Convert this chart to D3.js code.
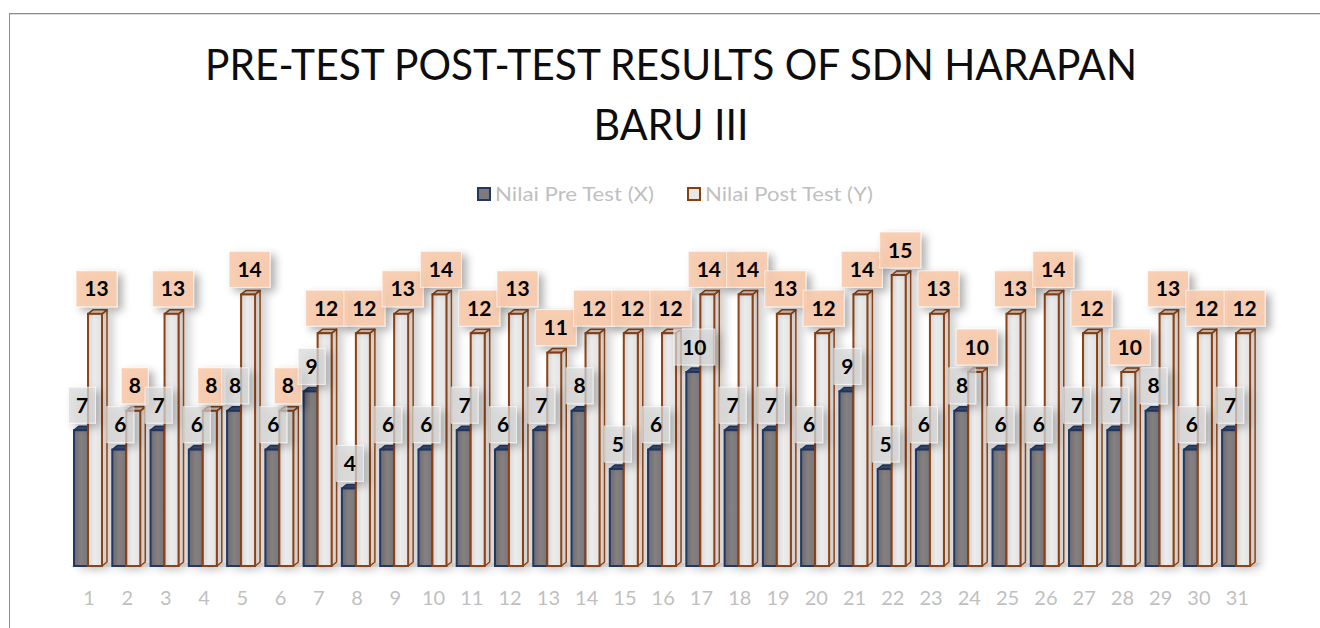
<!DOCTYPE html>
<html>
<head>
<meta charset="utf-8">
<script src="https://cdn.jsdelivr.net/npm/d3@7"></script>
<style>
  html, body { margin: 0; padding: 0; background: #fff; }
  svg { display: block; font-family: Lato, "Open Sans", sans-serif; }
</style>
</head>
<body>
<div id="chart"></div>
<script>
// Data
const categories = d3.range(1, 32).map(String);
const preTest  = [7, 6, 7, 6, 8, 6, 9, 4, 6, 6, 7, 6, 7, 8, 5, 6, 10, 7, 7, 6, 9, 5, 6, 8, 6, 6, 7, 7, 8, 6, 7];
const postTest = [13, 8, 13, 8, 14, 8, 12, 12, 13, 14, 12, 13, 11, 12, 12, 12, 14, 14, 13, 12, 14, 15, 13, 10, 13, 14, 12, 10, 13, 12, 12];
const seriesNames = ["Nilai Pre Test (X)", "Nilai Post Test (Y)"];
const titleLines = ["PRE-TEST POST-TEST RESULTS OF SDN HARAPAN", "BARU III"];

const width = 1320;
const height = 628;

const svg = d3.select("#chart")
    .append("svg")
    .attr("width", width)
    .attr("height", height);

const defs = svg.append("defs");

// shadows
const shadow = defs.append("filter").attr("id", "shadow")
    .attr("x", "-50%").attr("y", "-50%").attr("width", "200%").attr("height", "200%");
shadow.append("feGaussianBlur").attr("in", "SourceAlpha").attr("stdDeviation", 4);
shadow.append("feOffset").attr("dx", 5).attr("dy", 4).attr("result", "b");
shadow.append("feComponentTransfer").append("feFuncA").attr("type", "linear").attr("slope", 0.35);
const sm = shadow.append("feMerge");
sm.append("feMergeNode");
sm.append("feMergeNode").attr("in", "SourceGraphic");

const barShadow = defs.append("filter").attr("id", "barShadow")
    .attr("x", "-100%").attr("y", "-20%").attr("width", "300%").attr("height", "140%");
barShadow.append("feGaussianBlur").attr("in", "SourceAlpha").attr("stdDeviation", 4);
barShadow.append("feOffset").attr("dx", 6).attr("dy", 3);
barShadow.append("feComponentTransfer").append("feFuncA").attr("type", "linear").attr("slope", 0.18);
const bm = barShadow.append("feMerge");
bm.append("feMergeNode");
bm.append("feMergeNode").attr("in", "SourceGraphic");

// gradients
function grad(id, stops) {
  const g = defs.append("linearGradient").attr("id", id)
      .attr("x1", 0).attr("x2", 1).attr("y1", 0).attr("y2", 0);
  stops.forEach(s => g.append("stop").attr("offset", s[0]).attr("stop-color", s[1]));
}
grad("preFront", [[0, "#6e6a6c"], [0.5, "#858183"], [1, "#7a7678"]]);
grad("postFront", [[0, "#d6d6d6"], [0.45, "#ececec"], [1, "#e2e2e2"]]);

// chart frame
svg.append("line").attr("x1", 9).attr("x2", width).attr("y1", 13.5).attr("y2", 13.5)
    .attr("stroke", "#8c8c8c").attr("stroke-width", 1);
svg.append("line").attr("x1", 9).attr("x2", width).attr("y1", 14.5).attr("y2", 14.5)
    .attr("stroke", "#dcdcdc").attr("stroke-width", 1);
svg.append("line").attr("x1", 9.5).attr("x2", 9.5).attr("y1", 13).attr("y2", height)
    .attr("stroke", "#8c8c8c").attr("stroke-width", 1);

// title
svg.selectAll(".title")
    .data(titleLines)
    .join("text")
    .attr("class", "title")
    .attr("x", 671)
    .attr("y", (d, i) => 80 + i * 60)
    .attr("text-anchor", "middle")
    .attr("font-size", 42)
    .attr("fill", "#0d0d0d")
    .attr("textLength", (d, i) => i === 0 ? 932 : 155)
    .attr("lengthAdjust", "spacingAndGlyphs")
    .text(d => d);

// legend
const legend = svg.append("g").attr("font-size", 19).attr("fill", "#bfbfbf");
const legendItems = [
  { name: seriesNames[0], x: 477, fill: "#7f7b7d", stroke: "#1f3864", len: 159 },
  { name: seriesNames[1], x: 687, fill: "#e8e8e8", stroke: "#8b3e10", len: 168 }
];
legendItems.forEach(it => {
  legend.append("rect").attr("x", it.x + 1).attr("y", 188).attr("width", 12).attr("height", 12)
      .attr("fill", it.fill).attr("stroke", it.stroke).attr("stroke-width", 2);
  legend.append("text").attr("x", it.x + 18).attr("y", 201).attr("textLength", it.len)
      .attr("lengthAdjust", "spacingAndGlyphs").text(it.name);
});

// scales
const x = d3.scaleBand()
    .domain(categories)
    .range([70, 70 + 31 * 38.27])
    .padding(0);

const inner = d3.scaleBand()
    .domain(["pre", "post"])
    .range([4, 32]);

const y = d3.scaleLinear()
    .domain([0, 16])
    .range([566, 255.6]);

// floor
svg.append("path")
    .attr("d", `M${x.range()[0]},${y(0) + 1}L${x.range()[1]},${y(0) + 1}L${x.range()[1] + 5},${y(0) - 3}L${x.range()[0] + 5},${y(0) - 3}Z`)
    .attr("fill", "#ececec");

// axis
const xAxis = d3.axisBottom(x).tickSize(0).tickPadding(0);
const axisG = svg.append("g")
    .attr("transform", `translate(0,${y(0) + 39})`)
    .call(xAxis);
axisG.select(".domain").remove();
axisG.selectAll("text")
    .attr("font-size", 20)
    .attr("font-family", "Lato, \"Open Sans\", sans-serif")
    .attr("fill", "#bfbfbf")
    .attr("dy", 0);

// bars
const dx = 5, dy = -4;
const bw = inner.bandwidth();

const rows = categories.map((c, i) => ({ cat: c, pre: preTest[i], post: postTest[i] }));

const styles = {
  pre:  { front: "url(#preFront)", side: "#5a5658", top: "#3e4e72", stroke: "#203864" },
  post: { front: "url(#postFront)", side: "#d2d2d2", top: "#e0d0c4", stroke: "#8f4212" }
};

function drawBar(g, key, value) {
  const st = styles[key];
  const x0 = inner(key);
  const x1 = x0 + bw;
  const yt = y(value), yb = y(0);
  const bar = g.append("g").attr("filter", "url(#barShadow)");
  // side face
  bar.append("path")
      .attr("d", `M${x1},${yt}L${x1 + dx},${yt + dy}L${x1 + dx},${yb + dy}L${x1},${yb}Z`)
      .attr("fill", st.side).attr("stroke", st.stroke).attr("stroke-width", 1.5).attr("stroke-linejoin", "round");
  // top face
  bar.append("path")
      .attr("d", `M${x0},${yt}L${x0 + dx},${yt + dy}L${x1 + dx},${yt + dy}L${x1},${yt}Z`)
      .attr("fill", st.top).attr("stroke", st.stroke).attr("stroke-width", 1.5).attr("stroke-linejoin", "round");
  // front face
  bar.append("rect")
      .attr("x", x0).attr("y", yt).attr("width", bw).attr("height", yb - yt)
      .attr("fill", st.front).attr("stroke", st.stroke).attr("stroke-width", 2);
}

const groups = svg.append("g").selectAll("g")
    .data(rows)
    .join("g")
    .attr("transform", d => `translate(${x(d.cat)},0)`);

groups.each(function(d) {
  const g = d3.select(this);
  drawBar(g, "pre", d.pre);
  drawBar(g, "post", d.post);
});

// data labels
const labels = svg.append("g");
rows.forEach(d => {
  [["pre", d.pre, 12, "#d9d9d9", 0.7], ["post", d.post, 26.5, "#f8cbad", 0.9]].forEach(([key, v, cx, fill, op]) => {
    const txt = String(v);
    const w = txt.length > 1 ? 41 : 27;
    const h = 36;
    const xc = x(d.cat) + cx;
    const yc = y(v) - 25;
    const lg = labels.append("g");
    lg.append("rect")
        .attr("x", xc - w / 2).attr("y", yc - h / 2).attr("width", w).attr("height", h)
        .attr("fill", fill).attr("fill-opacity", op)
        .attr("stroke", "#ffffff").attr("stroke-opacity", 0.6)
        .attr("filter", "url(#shadow)");
    lg.append("text")
        .attr("x", xc).attr("y", yc + 7.5)
        .attr("text-anchor", "middle")
        .attr("font-size", 21).attr("font-weight", "bold")
        .attr("fill", "#000")
        .text(txt);
  });
});
</script>
</body>
</html>
